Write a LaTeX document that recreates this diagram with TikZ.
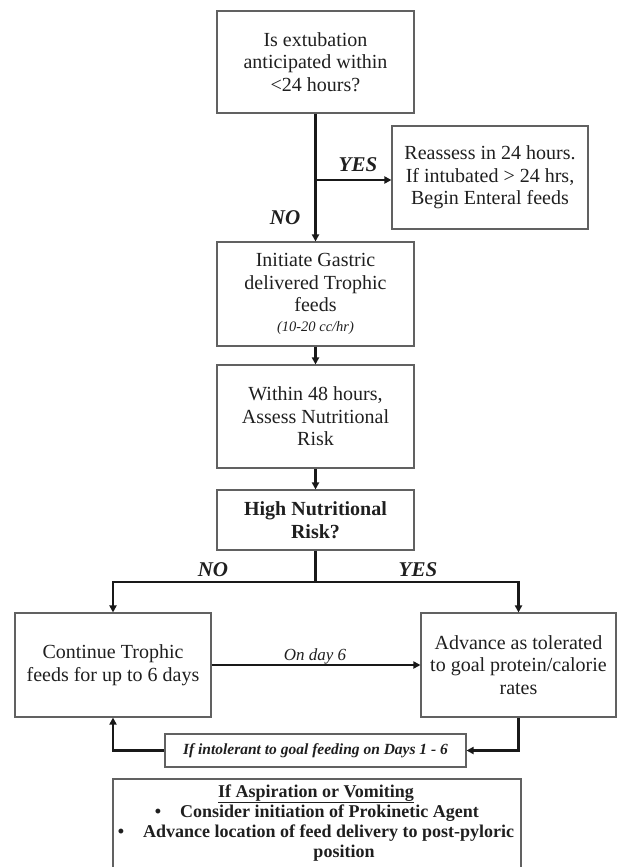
\documentclass[tikz,border=0pt]{standalone}
\usepackage{fontspec}
\setmainfont{Liberation Serif}
\usetikzlibrary{arrows.meta,calc}
\definecolor{txt}{gray}{0.12}
\definecolor{boxgray}{gray}{0.38}
\definecolor{lnk}{gray}{0.1}
\begin{document}
\begin{tikzpicture}[x=1pt,y=-1pt,
  box/.style={draw=boxgray, line width=1.1pt, align=center, inner sep=0pt, text=txt,
    font=\fontsize{20}{22.5}\selectfont},
  conn/.style={line width=2.4pt, draw=lnk, -{Triangle[length=7pt,width=7pt]}},
  plain/.style={line width=2.4pt, draw=lnk},
  lbl/.style={text=txt, font=\fontsize{21}{24}\selectfont\bfseries\itshape, inner sep=0pt},
  note/.style={text=txt, font=\fontsize{18}{20}\selectfont\bfseries, inner sep=0pt}]
\useasboundingbox (0,0) rectangle (617,867);

\node[box, minimum width=197pt, minimum height=102pt] (b1) at (315.5,62)
  {Is extubation\\anticipated within\\<24 hours?};
\node[box, minimum width=196pt, minimum height=103pt] (b2) at (490,177.5)
  {Reassess in 24 hours.\\If intubated > 24 hrs,\\Begin Enteral feeds};
\node[box, minimum width=197pt, minimum height=104pt] (b3) at (315.5,294)
  {Initiate Gastric\\delivered Trophic\\feeds\\[-3pt]{\fontsize{14.5}{16}\selectfont\itshape (10-20 cc/hr)}};
\node[box, minimum width=197pt, minimum height=103pt] (b4) at (315.5,416.5)
  {Within 48 hours,\\Assess Nutritional\\Risk};
\node[box, minimum width=197pt, minimum height=60pt, font=\fontsize{20}{22.5}\selectfont\bfseries] (b5) at (315.5,520)
  {High Nutritional\\Risk?};
\node[box, minimum width=196pt, minimum height=104pt] (b6) at (113,665)
  {Continue Trophic\\feeds for up to 6 days};
\node[box, minimum width=195pt, minimum height=104pt] (b7) at (518.5,665)
  {Advance as tolerated\\to goal protein/calorie\\rates};
\node[box, minimum width=301pt, minimum height=33pt, font=\fontsize{15.5}{18}\selectfont\bfseries\itshape] (b8) at (315.5,750.5)
  {If intolerant to goal feeding on Days 1 - 6};

% bottom note box (runs past the lower edge)
\draw[draw=boxgray, line width=1.1pt] (113,870) -- (113,779) -- (521,779) -- (521,870);
\node[note, anchor=mid] (t0) at (316,795) {\underline{If Aspiration or Vomiting}};
\node[note, anchor=mid] (d1) at (158,815) {\textbullet};
\node[note, anchor=mid west] (t1) at (180,815) {Consider initiation of Prokinetic Agent};
\node[note, anchor=mid] (d2) at (121,835) {\textbullet};
\node[note, anchor=mid west] (t2) at (143,835) {Advance location of feed delivery to post-pyloric};
\node[note, anchor=mid] (t3) at (344,855) {position};

% junctions
\coordinate (j1) at (315.5,180);
\coordinate (j2) at (315.5,582);

% connectors
\draw[conn] (b1.south) -- (b3.north);
\draw[conn, line width=2pt] (j1) -- (j1 -| b2.west);
\draw[conn] (b3.south) -- (b4.north);
\draw[conn] (b4.south) -- (b5.north);
\draw[plain] (b5.south) -- (j2);
\draw[conn] (j2) -| (b6.north);
\draw[conn] (j2) -| (b7.north);
\draw[conn] (b6.east) -- (b7.west);
\draw[conn] (b7.south) |- (b8.east);
\draw[conn] (b8.west) -| (b6.south);

% labels
\node[lbl] (yes1) at (358,165) {YES};
\node[lbl] (no1) at (285,218) {NO};
\node[lbl] (no2) at (213,570) {NO};
\node[lbl] (yes2) at (418,570) {YES};
\node[text=txt, font=\fontsize{17}{20}\selectfont\itshape, inner sep=0pt] (day6) at (315,656) {On day 6};
\end{tikzpicture}
\end{document}
